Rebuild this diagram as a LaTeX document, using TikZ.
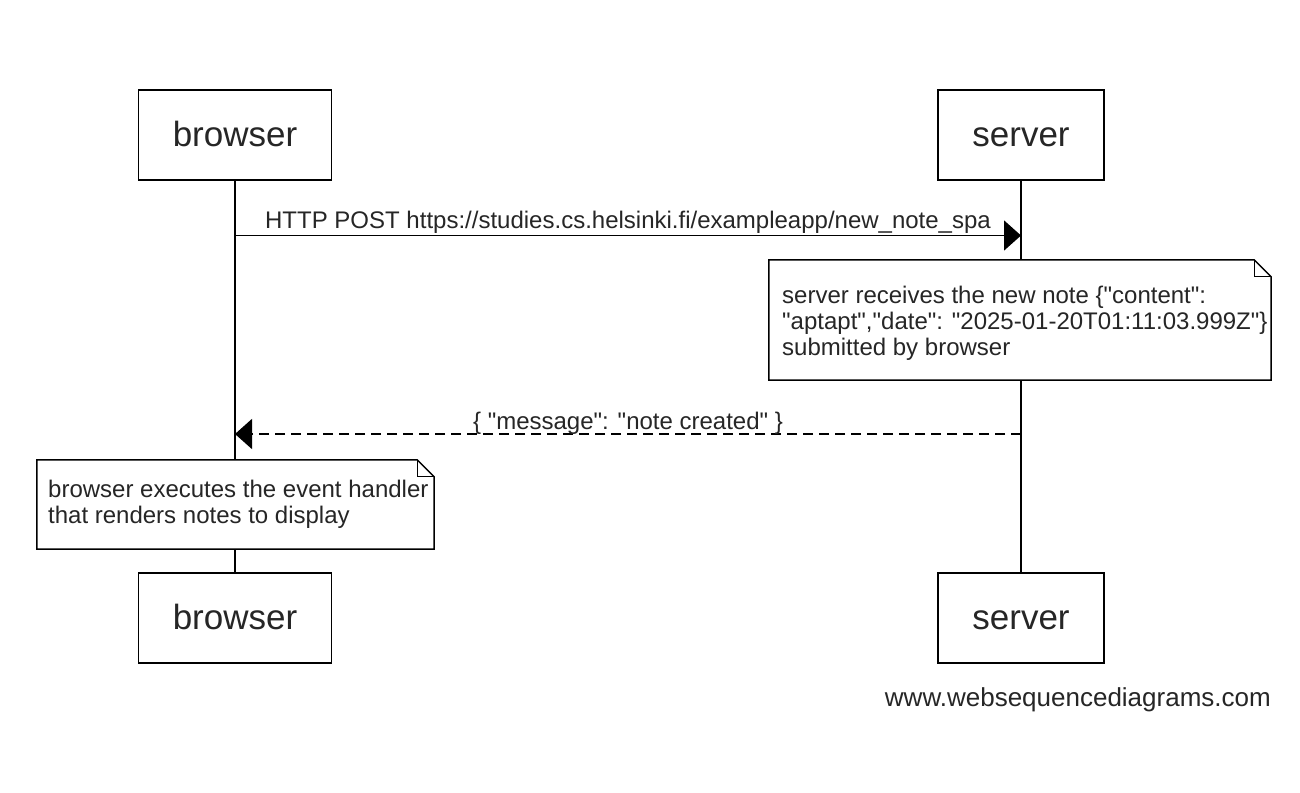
\documentclass[tikz,border=0pt]{standalone}
\usepackage{fontspec}
\newfontfamily\lsans{Liberation Sans}
\usetikzlibrary{arrows.meta}
\begin{document}
\begin{tikzpicture}[x=1pt,y=-1pt,
  part/.style={draw=black, line width=1.5pt, fill=white, minimum width=#1, minimum height=90pt, inner sep=0pt, text height=23pt, text depth=0pt, font=\lsans\fontsize{35}{42}\selectfont, text=black!85},
  life/.style={line width=1.5pt},
  msg/.style={line width=1.5pt, -{Triangle[length=17pt,width=30pt]}},
  reply/.style={msg, dash pattern=on 10pt off 6pt},
  lbl/.style={font=\lsans\fontsize{24}{26}\selectfont, inner sep=0pt, text=black!85},
  notebox/.style={fill=white, inner sep=0pt},
  notetext/.style={lbl, align=left, anchor=north west},
  noteline/.style={line width=1.5pt},
  fold/.style={line width=1pt}]
\useasboundingbox[fill=white] (0,0) rectangle (1300,792);
% participants
\node[part=193pt] (bt) at (235,135) {browser};
\node[part=166pt] (st) at (1021,135) {server};
\node[part=193pt] (bb) at (235,618) {browser};
\node[part=166pt] (sb) at (1021,618) {server};
% lifelines
\draw[life] (bt) -- (bb);
\draw[life] (st) -- (sb);
% message 1
\coordinate (b1) at (235,235.5);
\coordinate (s1) at (1021,235.5);
\draw[msg] (b1) -- (s1);
\node[lbl, anchor=base] (l1) at (628,228) {HTTP POST https://studies.cs.helsinki.fi/exampleapp/new\_note\_spa};
% note 1
\node[notebox, minimum width=502pt, minimum height=120pt] (n1) at (1020,320) {};
\draw[noteline] (n1.north west) -- ([xshift=-17pt]n1.north east) -- ([yshift=-17pt]n1.north east) -- (n1.south east) -- (n1.south west) -- cycle;
\draw[fold] ([xshift=-17pt]n1.north east) |- ([yshift=-17pt]n1.north east);
\node[notetext] (t1) at (782,285.5) {server receives the new note \{"content":\\"aptapt","date": "2025-01-20T01:11:03.999Z"\}\\submitted by browser};
% message 2
\coordinate (s2) at (1021,434);
\coordinate (b2) at (235,434);
\draw[reply] (s2) -- (b2);
\node[lbl, anchor=base] (l2) at (628,429) {\{ "message": "note created" \}};
% note 2
\node[notebox, minimum width=397pt, minimum height=89pt] (n2) at (235.5,504.5) {};
\draw[noteline] (n2.north west) -- ([xshift=-17pt]n2.north east) -- ([yshift=-17pt]n2.north east) -- (n2.south east) -- (n2.south west) -- cycle;
\draw[fold] ([xshift=-17pt]n2.north east) |- ([yshift=-17pt]n2.north east);
\node[notetext] (t2) at (48,479.5) {browser executes the event handler\\that renders notes to display};
% footer
\node[lbl, font=\lsans\fontsize{26}{30}\selectfont, anchor=base east] (ft) at (1271,706.5) {www.websequencediagrams.com};
\end{tikzpicture}
\end{document}
